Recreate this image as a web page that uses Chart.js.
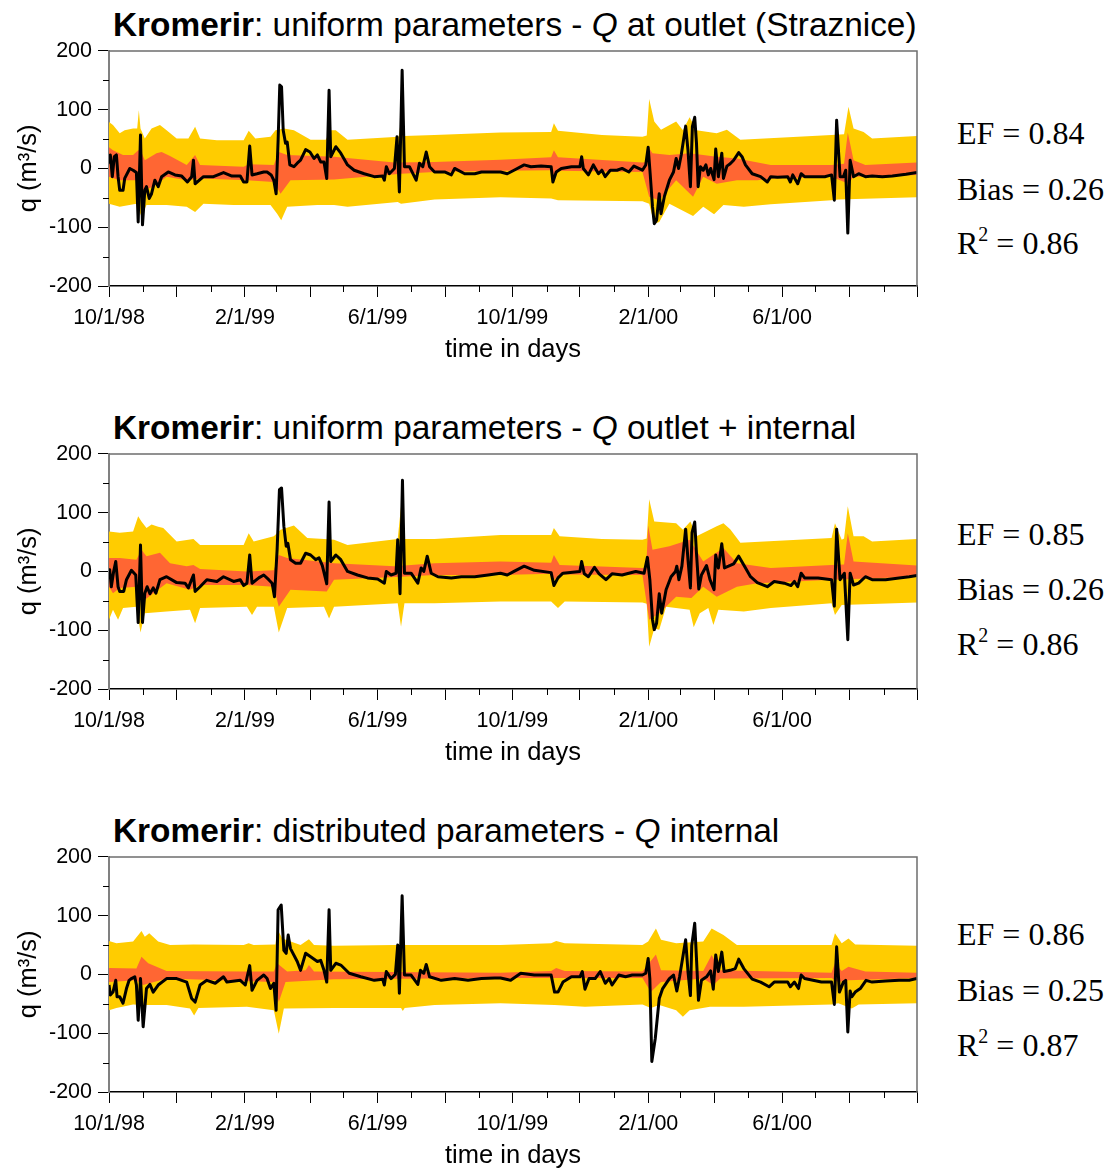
<!DOCTYPE html>
<html lang="en">
<head>
<meta charset="UTF-8">
<title>Kromerir - discharge uncertainty bands</title>
<script src="https://cdn.jsdelivr.net/npm/chart.js"></script>
<style>
  body {
    margin: 0;
    background: #fff;
    width: 1112px;
    height: 1171px;
    position: relative;
    overflow: hidden;
    font-family: 'Liberation Sans', Arial, sans-serif;
    color: #000;
  }
  .panel { position: absolute; left: 0; width: 931px; height: 333px; }
  .ttl {
    position: absolute;
    left: 113px;
    font-size: 33.4px;
    line-height: 33px;
    white-space: nowrap;
  }
  .stat {
    position: absolute;
    left: 957px;
    font-family: 'Liberation Serif', 'Times New Roman', serif;
    font-size: 32px;
    line-height: 32px;
    white-space: nowrap;
  }
  .stat sup { font-size: 20px; line-height: 0; vertical-align: 13px; }
</style>
</head>
<body>
  <div class="ttl" style="top:8px"><b>Kromerir</b>: uniform parameters - <i>Q</i> at outlet (Straznice)</div>
  <div class="panel" style="top:32px"><canvas id="p1"></canvas></div>
  <div class="stat" style="top:117px">EF = 0.84</div>
  <div class="stat" style="top:173px">Bias = 0.26</div>
  <div class="stat" style="top:227px">R<sup>2</sup> = 0.86</div>

  <div class="ttl" style="top:411px"><b>Kromerir</b>: uniform parameters - <i>Q</i> outlet + internal</div>
  <div class="panel" style="top:435px"><canvas id="p2"></canvas></div>
  <div class="stat" style="top:518px">EF = 0.85</div>
  <div class="stat" style="top:573px">Bias = 0.26</div>
  <div class="stat" style="top:628px">R<sup>2</sup> = 0.86</div>

  <div class="ttl" style="top:814px"><b>Kromerir</b>: distributed parameters - <i>Q</i> internal</div>
  <div class="panel" style="top:838px"><canvas id="p3"></canvas></div>
  <div class="stat" style="top:918px">EF = 0.86</div>
  <div class="stat" style="top:974px">Bias = 0.25</div>
  <div class="stat" style="top:1029px">R<sup>2</sup> = 0.87</div>

<script>
// time axis: days since 10/1/98, ticks on the first of each month
const monthTicks = [0, 31, 61, 92, 123, 151, 182, 212, 243, 273, 304, 335, 365,
  396, 426, 457, 488, 517, 548, 578, 609, 639, 670, 701, 731];
const xTickLabels = ['10/1/98', '2/1/99', '6/1/99', '10/1/99', '2/1/00', '6/1/00'];
const qTicks = [-200, -150, -100, -50, 0, 50, 100, 150, 200];

// ---- panel 1: uniform parameters, Q at outlet ----
const p1LineDays = [0,1.2,3,4.8,6.7,8.2,9.7,12.7,14.2,18.8,
  21.8,24.8,26.4,28.5,30.3,32.4,33.9,36.4,38.5,41.5,
  44.5,47.6,53.6,59.7,65.8,70.9,74.8,76.4,77.9,85.5,
  94.5,103.6,111.2,118.8,121.8,124.8,127.3,129.4,133.9,140,
  143,146.7,149.1,151.2,153,154.5,156.1,157.6,159.7,161.2,
  163.6,167.3,170.3,173.3,177.9,181.8,185.5,188.5,191.5,194.5,
  197,199.1,200.6,205.2,209.7,215.8,221.8,230.9,240,247.6,
  249.1,250.9,253.6,258.2,260.6,262.7,265.2,267.3,271.8,277.9,
  280.9,283.9,287,290,294.5,303.6,309.7,312.7,321.8,330.9,
  337,346,
  354.2,360.3,366.4,375.6,381.7,390.9,400,401.6,404.6,409.2,
  418.4,426,427.6,429.1,433.7,438.2,442.8,445.9,448.9,453.5,
  459.6,464.2,470.3,474.9,482.6,485.6,487.8,489.6,491.7,493.3,
  495.4,497.8,499.4,502.4,507,510.7,513.1,515.3,517.7,521.7,
  523.8,526,527.8,529.9,531.5,533,535.1,537.6,540,542.2,
  544.3,547.4,548.9,551.3,554.4,555.9,559,562,565.1,569.7,
  572.7,575.8,581.9,589.5,595.6,598.7,604.8,614,616.4,618.6,
  623.1,626.2,629.3,638.4,647.6,653.7,656.2,658.3,661.4,664.4,
  666.5,668.4,670.5,673.6,678.2,684.3,690.4,699.6,708.7,721,
  731];
const p1LineQ = [8,23,-14,20,23,-14,-37,-37,-17,0,
  -3,-7,-91,57,-96,-37,-31,-51,-43,-20,
  -31,-14,-6,-11,-13,-23,-14,14,-26,-14,
  -14,-7,-13,-13,-23,-23,38,-11,-9,-6,
  -6,-11,-20,-43,48,142,139,65,43,45,
  6,3,9,14,32,28,17,23,11,11,
  -17,133,20,37,26,6,-3,-9,-14,-13,
  -20,3,-9,0,54,-40,167,3,3,-20,
  9,3,28,3,-6,-6,-11,0,-9,-9,
  -6,-6,
  -6,-9,-3,6,3,4,3,-23,-6,0,
  3,3,20,0,-11,6,-9,-3,-14,-3,
  -3,0,-6,4,-3,6,36,-9,-65,-94,
  -88,-43,-77,-48,-20,-6,17,0,23,72,
  31,-31,71,87,43,-31,3,-3,6,-11,
  0,-19,33,-14,26,-17,4,8,14,27,
  20,6,-9,-14,-23,-14,-15,-14,-23,-11,
  -26,-9,-14,-14,-14,-11,-54,82,-14,-14,
  -3,-110,14,-14,-9,-14,-13,-14,-13,-10,
  -7];
const p1YellowHiDays = [0,3.6,9.7,14.2,21.8,25.5,27,28.5,32.4,38.5,46.1,52.1,61.2,71.8,77.9,82.4,97.6,
  121.8,126.4,132.4,146.1,150.6,158.2,167.3,182.4,196.1,200.6,205.2,215.8,262,264.5,267,294.5,
  354.2,400,402.5,406.2,445.9,482.6,486.5,488.7,493.3,499.4,513.1,519.2,525.3,531.5,549.8,559,571.2,
  653.7,665,669,673.6,682.7,690.4,731];
const p1YellowHi = [79,74,60,65,68,68,99,68,51,68,74,65,51,51,71,51,48,
  48,64,51,54,65,68,65,49,49,65,65,49,54,85,55,57,
  61,62,77,64,57,54,56,118,80,66,80,65,87,65,60,66,49,
  57,58,105,68,62,51,55];
const p1YellowLoDays = [0,9.7,24.8,29.4,33.9,52.1,70.3,77.9,85.5,112.7,146.1,152.1,155.8,161.2,188.5,
  203.6,215.8,261.2,264.2,294.5,354.2,400,406.2,482.6,488.7,493.3,497.8,507,528.4,537.6,547.4,555.9,
  574.3,598.7,653.7,659.8,731];
const p1YellowLo = [-60,-65,-60,-82,-62,-62,-65,-74,-60,-62,-62,-77,-88,-65,-62,
  -62,-65,-57,-60,-53,-49,-51,-54,-56,-60,-94,-91,-60,-81,-65,-78,-62,
  -65,-61,-54,-53,-49];
const p1OrangeHiDays = [0,3.6,12.7,21.8,26.4,28.5,32.4,43,47.6,55.2,70.3,77.9,82.4,121.8,126.4,149.1,
  153.6,161.2,203.6,258.2,294.5,354.2,400,402.5,406.2,482.6,486,487.8,491.7,507,525.3,549.8,568.1,
  598.7,653.7,665,668.4,673.6,684.3,731];
const p1OrangeHi = [36,31,23,23,31,31,14,26,28,21,6,23,6,3,7,6,
  28,23,20,10,11,15,19,31,19,10,11,37,26,23,26,20,17,
  6,6,8,61,14,6,10];
const p1OrangeLoDays = [0,9.7,24.8,30.9,40,52.1,70.3,82.4,124.8,149.1,155.2,164.2,203.6,264.2,294.5,
  354.2,400,403.1,407,482.6,488.7,497.8,513.1,528.4,537.6,549.8,568.1,586.5,598.7,653.7,669,673.6,731];
const p1OrangeLo = [-14,-20,-20,-37,-31,-14,-20,-17,-20,-23,-43,-20,-19,-9,-6,
  -4,-3,-14,-4,-6,-48,-54,-20,-48,-14,-26,-20,-20,-17,-14,-26,-14,-11];

// ---- panel 2: uniform parameters, Q outlet + internal ----
const p2LineDays = [0,0.6,2.1,4.2,6.1,8.2,9.7,13.3,15.8,20.3,
  24.2,26.4,28.5,30.3,32.4,34.5,37,40,42.4,46.1,
  52.1,61.2,68.8,71.8,76.4,77.9,82.4,88.5,97.6,103.6,
  112.7,118.8,121.8,124.8,127.3,129.4,135.5,140,144.5,147.6,
  149.7,152.1,154.2,156.1,158.2,160.3,161.8,164.2,168.8,173.3,
  177.9,182.4,187,190,193,197,199.1,200.6,205.2,209.7,
  215.8,224.8,233.9,243,249.1,250.9,255.2,259.7,261.2,263.3,
  265.5,267.3,273.3,279.4,282.4,284.8,287.9,291.5,297.6,309.7,
  318.8,330.9,343,
  354.2,360.3,366.4,375.6,384.8,400,402.5,406.2,410.7,426,
  427.6,430,433.7,439.2,443.4,449.6,455.1,464.2,470.3,476.5,
  484.1,487.1,489.3,491.7,493.3,495.4,497.8,500,504,508.5,
  512.5,513.7,515.6,518.3,521.7,523.8,526,527.5,529.9,531.5,
  533.6,536,540.6,543.7,547.4,548.9,551.3,554.4,556.8,560.5,
  565.1,569.7,574.3,580.4,586.5,595.6,601.8,610.9,617,620.1,
  623.1,626.2,629.3,641.5,653.7,656.2,658.3,661.4,665.3,668.4,
  670.5,673.6,678.2,684.3,690.4,702.6,714.8,724,731];
const p2LineQ = [-3,3,-26,0,17,-26,-34,-34,-14,2,
  -6,-87,45,-87,-37,-26,-38,-28,-37,-14,
  -9,-19,-20,-28,-6,-34,-26,-14,-17,-9,
  -17,-14,-24,-20,28,-20,-11,-6,-14,-20,
  -43,37,139,142,77,43,48,20,14,14,
  31,28,20,23,10,-21,118,17,28,20,
  0,-6,-11,-13,-20,0,-6,-3,54,-38,
  155,-3,-3,-20,6,0,26,-3,-9,-11,
  -9,-9,-6,
  -3,-6,0,9,2,-2,-24,-11,-3,0,
  17,-4,-9,7,-4,-14,-4,-6,-3,0,
  -3,24,-14,-82,-99,-88,-38,-71,-31,-9,
  0,9,-14,9,72,20,-28,66,84,31,
  -30,-6,10,-14,-31,28,6,47,6,9,
  13,26,11,-9,-19,-26,-17,-20,-24,-17,
  -26,-3,-11,-11,-14,-59,72,-14,-3,-116,
  -3,-23,-20,-9,-14,-14,-11,-9,-7];
const p2YellowHiDays = [0,9.7,21.8,26.4,29.4,33.9,38.5,44.5,49.1,61.2,76.4,82.4,121.8,126.4,130.9,149.1,
  155.2,167.3,179.4,194.5,203.6,215.8,261.2,264.2,267.3,294.5,
  354.2,400,402.5,407.7,445.9,482.6,486.5,488.7,493.3,513.1,519.2,526,531.5,549.8,555.9,562,571.2,
  653.7,656.8,662.9,665,668.4,673.6,682.7,690.4,731];
const p2YellowHi = [68,66,68,94,85,74,80,76,74,51,55,45,45,65,51,60,
  71,78,57,55,54,45,55,111,55,55,
  62,62,74,60,55,54,56,123,85,82,71,85,60,77,82,72,49,
  57,82,54,56,111,60,60,51,55];
const p2YellowLoDays = [0,3.6,8.2,12.7,24.8,28.5,32.4,52.1,73.3,77.9,82.4,124.8,129.4,133.9,149.1,153.6,
  161.2,194.5,199.1,203.6,261.2,264.2,267.3,294.5,
  354.2,400,406.2,412.3,482.6,486.5,488.7,493.3,497.8,504,525.3,529,534.5,542.2,546.8,551.3,574.3,
  598.7,653.7,656.8,662.9,731];
const p2YellowLo = [-82,-65,-82,-62,-60,-104,-71,-68,-65,-88,-62,-60,-74,-60,-60,-104,
  -62,-60,-80,-60,-54,-94,-54,-54,
  -51,-51,-62,-51,-53,-55,-128,-97,-99,-60,-65,-95,-71,-62,-91,-65,-68,
  -62,-54,-74,-57,-53];
const p2OrangeHiDays = [0,9.7,24.8,29.4,33.9,46.1,55.2,70.3,76.4,82.4,124.8,149.1,153.6,161.2,203.6,258.2,294.5,
  354.2,400,402.5,407.7,482.6,486,487.8,491.7,507,525.3,537.6,555.9,568.1,598.7,653.7,665,668.4,673.6,731];
const p2OrangeHi = [23,23,20,37,26,32,14,9,11,4,0,2,28,23,14,9,14,
  17,15,28,11,6,7,78,37,43,54,17,40,14,6,11,12,65,17,10];
const p2OrangeLoDays = [0,3.6,9.7,24.8,32.4,52.1,73.3,82.4,124.8,149.1,153.6,164.2,197,203.6,264.2,294.5,
  354.2,400,403.1,407,482.6,488.7,497.8,513.1,526.9,537.6,549.8,568.1,586.5,653.7,731];
const p2OrangeLo = [-26,-37,-28,-26,-48,-20,-31,-23,-23,-26,-60,-31,-34,-14,-9,-6,
  -6,-4,-14,-5,-6,-82,-71,-43,-45,-26,-43,-26,-20,-14,-9];

// ---- panel 3: distributed parameters, Q internal ----
const p3LineDays = [0,1.2,3.6,6.1,7.3,9.7,12.7,15.8,18.2,20.3,
  23.3,24.8,26.4,28.5,30.9,33.9,37,40,44.5,52.1,
  61.2,70.3,74.8,77.9,82.4,88.5,96.1,103.6,106.7,118.8,
  123.3,127.3,129.4,133.9,140,143,146.1,149.1,151.2,153,
  155.8,158.2,160.3,162.1,164.2,170.3,173.3,177.9,182.4,188.5,
  191.5,194.5,197,199.1,200.6,205.2,209.7,217.3,227.9,240,
  247.6,249.1,250.9,255.2,259.1,261.2,262.7,265.2,267.3,273.3,
  279.4,281.8,284.8,287,290,300.6,312.7,324.8,337,349,
  354.2,363.4,372.5,384.8,400,403.1,406.2,410.7,418.4,426,
  428.2,430.6,434.3,439.8,444.4,449,452.6,455.1,461.2,467.3,
  473.4,482.6,485.6,487.8,489.3,491.1,494.2,497.8,500.9,507,
  510.7,513.7,516.2,521.7,523.8,526,527.2,529.9,531.5,533.3,
  536,540.6,544.3,546.7,548.9,551.3,554.4,556.5,562,566.6,
  569.7,574.3,581.9,589.5,597.2,601.8,614,616.4,620.1,623.8,
  626.2,629.3,644.5,653.7,656.2,658.3,660.8,664.4,666.5,668.4,
  670.5,672,675.1,679.7,684.9,690.4,702.6,714.8,724,731];
const p3LineQ = [-18,-35,-30,-10,-38,-38,-49,-24,-10,-7,
  -4,-18,-78,-7,-89,-24,-17,-30,-18,-7,
  -7,-13,-41,-47,-18,-10,-15,-4,-13,-10,
  -18,15,-27,-10,-1,-7,-24,-15,-61,110,
  118,41,36,67,44,22,7,36,30,22,
  24,7,-13,110,7,19,16,2,-4,-10,
  -8,-18,5,-7,0,50,-32,134,-1,-1,
  -17,7,2,17,-4,-10,-7,-10,-7,-6,
  -6,-10,2,-1,-1,-30,-30,-13,-4,-4,
  5,-25,-7,-7,5,-15,-7,-18,-1,-4,
  -1,-1,2,27,-7,-148,-109,-41,-24,-7,
  -1,-28,-4,59,5,-36,49,87,27,-44,
  -10,-4,6,-25,33,5,38,5,7,10,
  26,10,-8,-13,-21,-13,-13,-21,-13,-24,
  -1,-7,-13,-13,-51,47,-30,-13,-10,-98,
  -28,-38,-30,-24,-10,-13,-11,-10,-10,-7];
const p3YellowHiDays = [0,6.7,21.8,29.4,32.4,36.4,44.5,55.2,76.4,121.8,126.4,130.9,150.6,152.1,156.7,173.3,
  180.9,185.5,203.6,258.2,
  354.2,400,404.6,412.3,482.6,487.8,494.8,499.4,513.1,537.6,545.2,555.9,568.1,653.7,656.8,662.9,
  669,675.1,731];
const p3YellowHi = [57,53,56,74,64,70,56,50,51,50,53,50,51,78,61,50,
  60,50,49,50,
  50,53,57,53,50,56,78,59,53,56,78,67,50,50,70,53,
  61,51,49];
const p3YellowLoDays = [0,6.7,21.8,30.9,52.1,73.3,77,80.9,124.8,149.1,153.6,158.2,203.6,264.2,265.8,267.5,294.5,
  354.2,403.1,430.6,482.6,490.2,497.8,513.1,519.2,525.3,543.7,574.3,653.7,659.8,672,678.2,731];
const p3YellowLo = [-61,-57,-51,-52,-52,-58,-70,-57,-55,-61,-101,-58,-57,-57,-62,-57,-52,
  -49,-52,-55,-51,-57,-52,-61,-72,-61,-55,-55,-51,-49,-58,-51,-49];
const p3OrangeHiDays = [0,24.8,29.4,35.5,52.1,121.8,149.1,152.1,161.2,177.9,180.9,185.5,
  354.2,400,404.6,412.3,482.6,494.8,499.4,537.6,545.2,552.9,653.7,656.8,662.9,669,684.3,731];
const p3OrangeHi = [11,10,30,19,6,5,5,19,5,7,16,5,
  3,6,11,6,5,34,7,6,33,7,3,19,6,13,5,3];
const p3OrangeLoDays = [0,24.8,30.9,52.1,149.1,153.6,159.7,203.6,
  354.2,482.6,490.2,499.4,537.6,546.7,552.9,653.7,659.8,669,731];
const p3OrangeLo = [-13,-10,-18,-7,-13,-47,-13,-8,
  -6,-6,-30,-13,-7,-18,-7,-6,-13,-10,-6];

const YELLOW = '#FFCC00';
const ORANGE = '#FF6633';
const FONT = "'Liberation Sans', Arial, sans-serif";
const NONE = 'rgba(0,0,0,0)';

function pts(days, vals) {
  return days.map((d, i) => ({ x: d, y: vals[i] }));
}

// short ticks (odd months, 50s on q) and the top/right frame
const frameAndMinorTicks = {
  id: 'frameAndMinorTicks',
  afterDraw(chart) {
    const { ctx, chartArea: a, scales: { x, y } } = chart;
    ctx.save();
    ctx.strokeStyle = '#000';
    ctx.lineWidth = 1;
    ctx.beginPath();
    x.ticks.forEach((t, i) => {
      if (i % 2) {
        const px = Math.round(x.getPixelForValue(t.value)) + 0.5;
        ctx.moveTo(px, a.bottom);
        ctx.lineTo(px, a.bottom + 6);
      }
    });
    y.ticks.forEach(t => {
      if (t.value % 100) {
        const py = Math.round(y.getPixelForValue(t.value)) + 0.5;
        ctx.moveTo(a.left - 6, py);
        ctx.lineTo(a.left, py);
      }
    });
    ctx.stroke();
    ctx.strokeStyle = '#6e6e6e';
    ctx.lineWidth = 1.5;
    ctx.beginPath();
    ctx.moveTo(a.left, a.top);
    ctx.lineTo(a.right, a.top);
    ctx.lineTo(a.right, a.bottom);
    ctx.stroke();
    ctx.restore();
  }
};

function makePanel(id, line, yHi, yLo, oHi, oLo) {
  new Chart(document.getElementById(id), {
    type: 'line',
    data: {
      datasets: [
        { data: line, borderColor: '#000', borderWidth: 3, borderJoinStyle: 'round', fill: false },
        { data: oHi, borderColor: NONE, borderWidth: 0, backgroundColor: ORANGE, fill: '+1' },
        { data: oLo, borderColor: NONE, borderWidth: 0, fill: false },
        { data: yHi, borderColor: NONE, borderWidth: 0, backgroundColor: YELLOW, fill: '+1' },
        { data: yLo, borderColor: NONE, borderWidth: 0, fill: false }
      ]
    },
    options: {
      animation: false,
      responsive: true,
      maintainAspectRatio: false,
      layout: { autoPadding: false, padding: { left: 0, right: 14, top: 11, bottom: 0 } },
      elements: { point: { radius: 0, hoverRadius: 0 }, line: { tension: 0 } },
      plugins: { legend: { display: false }, tooltip: { enabled: false } },
      scales: {
        x: {
          type: 'linear',
          min: 0,
          max: 731,
          afterBuildTicks: s => { s.ticks = monthTicks.map(v => ({ value: v })); },
          afterFit: s => { s.height = 79; },
          ticks: {
            autoSkip: false,
            maxRotation: 0,
            padding: 8,
            color: '#000',
            font: { family: FONT, size: 21.5 },
            callback: (v, i) => (i % 4 === 0 && i / 4 < xTickLabels.length) ? xTickLabels[i / 4] : ''
          },
          grid: {
            drawOnChartArea: false,
            tickLength: 11,
            tickWidth: 1,
            tickColor: c => (c.index % 2 === 0 ? '#000' : NONE)
          },
          border: { display: true, color: '#000', width: 1.5 },
          title: {
            display: true,
            text: 'time in days',
            color: '#000',
            font: { family: FONT, size: 25.5 },
            padding: { top: 0, bottom: 0 }
          }
        },
        y: {
          min: -200,
          max: 200,
          afterBuildTicks: s => { s.ticks = qTicks.map(v => ({ value: v })); },
          afterFit: s => { s.width = 109; },
          ticks: {
            padding: 6,
            color: '#000',
            font: { family: FONT, size: 21.5 },
            callback: v => (v % 100 === 0 ? String(v) : '')
          },
          grid: {
            drawOnChartArea: false,
            tickLength: 11,
            tickWidth: 1,
            tickColor: c => (c.tick && c.tick.value % 100 === 0 ? '#000' : NONE)
          },
          border: { display: true, color: '#808080', width: 2 },
          title: {
            display: true,
            text: 'q (m³/s)',
            color: '#000',
            font: { family: FONT, size: 25.5 },
            padding: { top: 14, bottom: 0 }
          }
        }
      }
    },
    plugins: [frameAndMinorTicks]
  });
}

makePanel('p1', pts(p1LineDays, p1LineQ), pts(p1YellowHiDays, p1YellowHi), pts(p1YellowLoDays, p1YellowLo),
  pts(p1OrangeHiDays, p1OrangeHi), pts(p1OrangeLoDays, p1OrangeLo));
makePanel('p2', pts(p2LineDays, p2LineQ), pts(p2YellowHiDays, p2YellowHi), pts(p2YellowLoDays, p2YellowLo),
  pts(p2OrangeHiDays, p2OrangeHi), pts(p2OrangeLoDays, p2OrangeLo));
makePanel('p3', pts(p3LineDays, p3LineQ), pts(p3YellowHiDays, p3YellowHi), pts(p3YellowLoDays, p3YellowLo),
  pts(p3OrangeHiDays, p3OrangeHi), pts(p3OrangeLoDays, p3OrangeLo));
</script>
</body>
</html>
